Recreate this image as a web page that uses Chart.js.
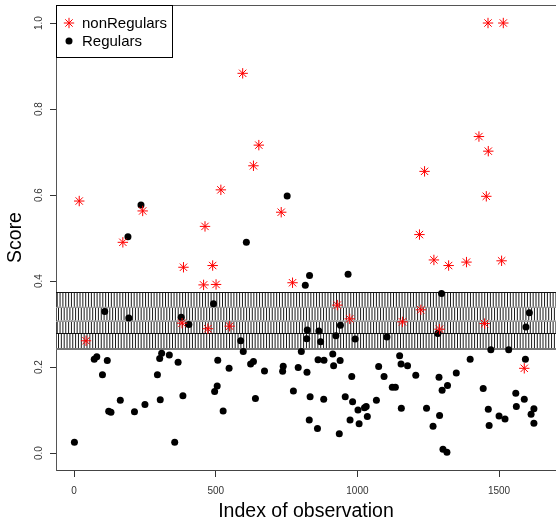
<!DOCTYPE html>
<html>
<head>
<meta charset="utf-8">
<script src="https://cdn.jsdelivr.net/npm/chart.js@4.4.1/dist/chart.umd.min.js"></script>
<style>
    html, body { margin: 0; padding: 0; background: #fff; overflow: hidden; }
    #wrap { width: 556px; height: 521px; }
</style>
</head>
<body>
<div id="wrap"><canvas id="scoreChart" width="556" height="521"></canvas></div>
<script>
// observation index / score for the two groups
const nonRegIdx = [18, 42, 172, 242, 381, 386, 457, 462, 472, 489, 501, 518, 549, 595, 633, 652, 731, 771,
    929, 973, 1159, 1219, 1224, 1237, 1270, 1290, 1322, 1385, 1429, 1449, 1455, 1461, 1462, 1509, 1515, 1589];
const nonRegScore = [0.586, 0.261, 0.490, 0.563, 0.302, 0.432, 0.391, 0.527, 0.289, 0.436, 0.392, 0.612, 0.295, 0.883, 0.668, 0.716, 0.560, 0.396,
    0.344, 0.312, 0.305, 0.508, 0.333, 0.655, 0.449, 0.288, 0.436, 0.444, 0.736, 0.301, 0.597, 1.000, 0.702, 0.447, 1.000, 0.197];

const regIdx = [1, 71, 80, 100, 108, 117, 122, 130, 163, 190, 193, 213, 236, 250, 294, 302, 304, 309, 336, 355,
    367, 378, 384, 405, 492, 496, 505, 507, 526, 547, 588, 597, 608, 623, 633, 640, 672, 736, 738, 752,
    774, 791, 802, 816, 821, 822, 823, 831, 830, 833, 859, 861, 864, 870, 881, 882, 913, 916, 924, 936,
    939, 940, 957, 967, 974, 980, 983, 992, 1002, 1006, 1025, 1031, 1035, 1067, 1075, 1094, 1104, 1123, 1134, 1149,
    1154, 1155, 1177, 1206, 1244, 1267, 1284, 1288, 1290, 1297, 1299, 1302, 1316, 1318, 1349, 1398, 1444, 1462, 1465, 1471,
    1500, 1521, 1534, 1559, 1561, 1589, 1593, 1595, 1607, 1613, 1623, 1623];
const regScore = [0.025, 0.218, 0.224, 0.182, 0.329, 0.215, 0.097, 0.095, 0.123, 0.503, 0.314, 0.096, 0.577, 0.113, 0.182, 0.220, 0.124, 0.232, 0.228, 0.025,
    0.211, 0.316, 0.133, 0.299, 0.347, 0.143, 0.156, 0.216, 0.098, 0.197, 0.261, 0.236, 0.490, 0.207, 0.213, 0.127, 0.191, 0.190, 0.202, 0.598,
    0.144, 0.199, 0.236, 0.390, 0.266, 0.188, 0.286, 0.413, 0.077, 0.131, 0.057, 0.217, 0.284, 0.259, 0.125, 0.216, 0.230, 0.203, 0.273, 0.045,
    0.215, 0.297, 0.131, 0.416, 0.077, 0.178, 0.119, 0.265, 0.100, 0.068, 0.105, 0.108, 0.085, 0.123, 0.201, 0.178, 0.270, 0.153, 0.153, 0.226,
    0.207, 0.104, 0.203, 0.181, 0.104, 0.062, 0.278, 0.176, 0.087, 0.371, 0.146, 0.009, 0.002, 0.157, 0.186, 0.218, 0.150, 0.102, 0.064, 0.240,
    0.086, 0.079, 0.240, 0.139, 0.108, 0.125, 0.218, 0.293, 0.326, 0.090, 0.103, 0.069];

// threshold band (low / centre / high) and the row breaks of its shading
const bandLow = 0.242;
const bandMid = 0.279;
const bandHigh = 0.374;
const bandRows = [0.374, 0.340, 0.308, 0.279, 0.242];

const xTicks = [0, 500, 1000, 1500];
const xTickLabels = ['0', '500', '1000', '1500'];
const yTicks = [0, 0.2, 0.4, 0.6, 0.8, 1.0];
const yTickLabels = ['0.0', '0.2', '0.4', '0.6', '0.8', '1.0'];

const seriesNames = ['nonRegulars', 'Regulars'];

function toPoints(xs, ys) {
    return xs.map((x, i) => ({ x: x, y: ys[i] }));
}

const FONT = '"Liberation Sans", Arial, sans-serif';

const scorePlot = {
    id: 'scorePlot',
    beforeDatasetsDraw(chart) {
        const { ctx, chartArea: a, scales: { y } } = chart;
        ctx.save();
        ctx.beginPath();
        ctx.rect(a.left, a.top, a.right - a.left, a.bottom - a.top);
        ctx.clip();
        // vertical shading, one row at a time
        ctx.lineWidth = 1;
        ctx.strokeStyle = '#1a1a1a';
        for (let r = 0; r < bandRows.length - 1; r++) {
            const y0 = y.getPixelForValue(bandRows[r]);
            const y1 = y.getPixelForValue(bandRows[r + 1]);
            ctx.beginPath();
            for (let x = a.left + 1.2 + (r % 2) * 1.3; x < a.right; x += 2.85) {
                ctx.moveTo(x, y0);
                ctx.lineTo(x, y1);
            }
            ctx.stroke();
        }
        // faint breaks between rows
        ctx.strokeStyle = '#9a9a9a';
        ctx.beginPath();
        for (let r = 1; r < bandRows.length - 1; r++) {
            const yy = Math.round(y.getPixelForValue(bandRows[r])) + 0.5;
            ctx.moveTo(a.left, yy);
            ctx.lineTo(a.right, yy);
        }
        ctx.stroke();
        // band edges and centre line
        ctx.strokeStyle = '#111';
        ctx.beginPath();
        [bandHigh, bandMid].forEach(v => {
            const yy = Math.round(y.getPixelForValue(v)) + 0.5;
            ctx.moveTo(a.left, yy);
            ctx.lineTo(a.right, yy);
        });
        ctx.stroke();
        ctx.strokeStyle = '#777';
        ctx.lineWidth = 2;
        ctx.beginPath();
        const yb = Math.round(y.getPixelForValue(bandLow));
        ctx.moveTo(a.left, yb);
        ctx.lineTo(a.right, yb);
        ctx.stroke();
        ctx.restore();
    },
    afterDraw(chart) {
        const { ctx, chartArea: a, scales: { x, y } } = chart;
        ctx.save();
        // top edge of the box
        ctx.strokeStyle = '#555';
        ctx.lineWidth = 1;
        ctx.beginPath();
        ctx.moveTo(a.left, a.top + 0.5);
        ctx.lineTo(a.right, a.top + 0.5);
        ctx.stroke();

        // tick labels
        ctx.fillStyle = '#333';
        ctx.font = '10px ' + FONT;
        ctx.textAlign = 'center';
        ctx.textBaseline = 'alphabetic';
        xTicks.forEach((v, i) => {
            ctx.fillText(xTickLabels[i], x.getPixelForValue(v), 494);
        });
        yTicks.forEach((v, i) => {
            ctx.save();
            ctx.translate(42, y.getPixelForValue(v));
            ctx.rotate(-Math.PI / 2);
            ctx.fillText(yTickLabels[i], 0, 0);
            ctx.restore();
        });

        // axis titles
        ctx.fillStyle = '#000';
        ctx.font = '19.5px ' + FONT;
        ctx.fillText('Index of observation', (a.left + a.right) / 2, 517);
        ctx.save();
        ctx.translate(21, (a.top + a.bottom) / 2);
        ctx.rotate(-Math.PI / 2);
        ctx.fillText('Score', 0, 0);
        ctx.restore();

        // legend box
        ctx.fillStyle = '#fff';
        ctx.fillRect(a.left, a.top, 116, 52);
        ctx.strokeStyle = '#000';
        ctx.strokeRect(a.left + 0.5, a.top + 0.5, 116, 52);
        const rows = [a.top + 18, a.top + 36];
        chart.data.datasets.forEach((ds, i) => {
            const cx = a.left + 13, cy = rows[i];
            ctx.fillStyle = ds.pointBackgroundColor;
            ctx.strokeStyle = ds.pointBorderColor;
            ctx.lineWidth = 1;
            ctx.beginPath();
            if (ds.pointStyle === 'circle') {
                ctx.arc(cx, cy, ds.pointRadius, 0, Math.PI * 2);
                ctx.fill();
            } else {
                const r = ds.pointRadius, d = r * Math.SQRT1_2;
                ctx.moveTo(cx - r, cy); ctx.lineTo(cx + r, cy);
                ctx.moveTo(cx, cy - r); ctx.lineTo(cx, cy + r);
                ctx.moveTo(cx - d, cy - d); ctx.lineTo(cx + d, cy + d);
                ctx.moveTo(cx - d, cy + d); ctx.lineTo(cx + d, cy - d);
                ctx.stroke();
            }
            ctx.fillStyle = '#000';
            ctx.font = '15px ' + FONT;
            ctx.textAlign = 'left';
            ctx.textBaseline = 'middle';
            ctx.fillText(ds.label, a.left + 26, cy + 1);
        });
        ctx.restore();
    }
};

new Chart(document.getElementById('scoreChart').getContext('2d'), {
    type: 'scatter',
    data: {
        datasets: [
            {
                label: seriesNames[0],
                data: toPoints(nonRegIdx, nonRegScore),
                pointStyle: 'star',
                pointRadius: 5.2,
                borderWidth: 1,
                pointBorderColor: '#ff0000',
                pointBackgroundColor: '#ff0000'
            },
            {
                label: seriesNames[1],
                data: toPoints(regIdx, regScore),
                pointStyle: 'circle',
                pointRadius: 3.5,
                borderWidth: 0,
                pointBorderColor: '#000',
                pointBackgroundColor: '#000'
            }
        ]
    },
    options: {
        responsive: false,
        animation: false,
        layout: { autoPadding: false, padding: { top: 5, left: 0, right: 0, bottom: 0 } },
        scales: {
            x: {
                type: 'linear',
                min: -64,
                max: 1701,
                afterBuildTicks: s => { s.ticks = xTicks.map(v => ({ value: v })); },
                afterFit: s => { s.height = 51; },
                ticks: { display: false },
                grid: { drawOnChartArea: false, drawTicks: true, tickLength: 7, tickColor: '#333', tickWidth: 1 },
                border: { display: true, color: '#444', width: 1 }
            },
            y: {
                type: 'linear',
                min: -0.0395,
                max: 1.0419,
                afterBuildTicks: s => { s.ticks = yTicks.map(v => ({ value: v })); },
                afterFit: s => { s.width = 56; },
                ticks: { display: false },
                grid: { drawOnChartArea: false, drawTicks: true, tickLength: 6, tickColor: '#333', tickWidth: 1 },
                border: { display: true, color: '#555', width: 1 }
            }
        },
        plugins: {
            legend: { display: false },
            tooltip: { enabled: false }
        }
    },
    plugins: [scorePlot]
});
</script>
</body>
</html>
